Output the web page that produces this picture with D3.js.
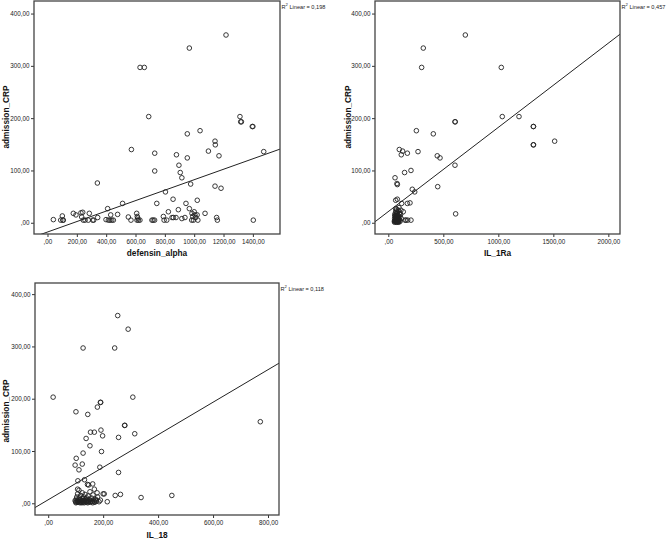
<!DOCTYPE html>
<html><head><meta charset="utf-8">
<script src="https://cdn.jsdelivr.net/npm/d3@7"></script>
<style>html,body{margin:0;padding:0;background:#fff}svg{display:block}text{font-family:Arial,"Liberation Sans",sans-serif}</style>
</head><body><svg id="chart" width="667" height="540"></svg>
<script>
// ---- data ----
const yTickValues = [0, 100, 200, 300, 400];
const xTicksDefensin = [0, 200, 400, 600, 800, 1000, 1200, 1400];
const xTicksIL1Ra = [0, 500, 1000, 1500, 2000];
const xTicksIL18 = [0, 200, 400, 600, 800];
const xTitles = ["defensin_alpha", "IL_1Ra", "IL_18"];
const yTitle = "admission_CRP";
const r2Values = ["0,198", "0,457", "0,118"];
const fitIntercept = [-17.7, 21.4, 6.7];
const fitSlope = [0.1, 0.161, 0.311];

const defensinAlpha = [40,90,101,108,104,176,194,228,240,233,244,256,285,278,308,315,342,340,399,415,426,438,449,410,431,478,512,551,569,572,608,612,615,610,630,620,631,660,690,712,720,730,731,731,745,790,795,813,804,824,849,858,876,856,879,892,896,905,916,916,937,944,953,953,967,967,976,985,990,983,995,1000,1005,1010,1020,1025,1021,1040,1074,1097,1142,1144,1142,1153,1158,1169,1183,1217,1312,1317,1322,1396,1400,1403,1474];
const crpDefensin = [6,5,13,5,5,18,15,19,20,11,5,5,18,5,5,5,10,76,6,5,5,5,5,27,15,16,37,11,5,140,18,12,9,5,5,5,297,297,203,5,5,5,133,99,37,12,5,5,59,21,10,10,10,45,130,25,110,96,86,8,10,37,170,124,334,27,74,18,12,5,5,21,15,10,15,5,43,176,18,137,156,149,70,10,5,128,66,359,203,193,193,184,184,5,136];

const il1Ra = [700,318,303,1027,1036,1188,606,608,1318,1320,1318,1320,1512,255,409,100,130,118,173,270,445,470,606,61,79,82,148,206,218,240,449,612,67,82,121,173,197,152,176,206,161,67,97,115,136,106,55,58,60,62,63,65,66,68,70,71,72,74,75,76,78,79,80,82,83,85,86,88,90,92,94,95,98,100,104,108,112,118,57,61,64,67,69,73,77,81,84,87,89,91,93,96,59,71,79,87,65,75];
const crpIL1Ra = [359,334,297,297,203,203,193,193,184,184,149,149,156,176,170,140,137,130,133,136,128,124,110,86,75,73,96,100,64,59,69,17,43,45,37,37,38,5,5,5,5,27,29,24,21,18,3,8,12,5,18,2,10,22,6,14,3,26,9,17,4,12,20,7,2,15,10,5,24,13,3,8,18,6,11,3,16,8,1,4,7,2,9,5,1,6,3,8,2,11,4,1,15,12,2,6,14,10];

const il18 = [253,291,127,242,18,308,190,191,179,101,144,278,279,772,192,154,168,198,256,315,138,152,127,194,102,98,124,112,188,256,108,132,143,147,162,200,204,244,263,338,450,215,107,98,100,102,104,105,107,108,110,112,113,115,117,118,120,122,124,125,127,129,130,132,134,136,138,140,142,145,147,150,152,155,158,160,163,165,168,172,176,180,185,190,178,168,101,106,109,114,116,119,123,126,128,131,135,139,141,144,148,153,157,162,170,174];
const crpIL18 = [359,333,297,297,203,203,193,193,184,175,170,149,149,156,140,136,136,129,126,133,124,110,96,99,86,73,75,64,69,59,43,45,36,35,37,18,18,15,17,11,15,3,27,5,3,8,12,2,18,6,4,25,10,3,7,15,2,5,20,9,3,12,6,4,17,8,3,10,5,14,3,7,22,4,10,3,16,6,3,8,4,12,3,6,20,27,1,4,2,6,1,3,1,5,2,1,4,2,6,1,3,2,5,1,2,6];

// ---- layout ----
const panels = [
  {xs: defensinAlpha, ys: crpDefensin, xTicks: xTicksDefensin, box: [34, 280, 1, 234], xDom: [-92, 1585], yDom: [-21.5, 424], yTitleX: 6, yTitleY: 117, xTitleY: 253},
  {xs: il1Ra, ys: crpIL1Ra, xTicks: xTicksIL1Ra, box: [375, 620, 1, 234], xDom: [-121, 2106], yDom: [-21.5, 424], yTitleX: 348, yTitleY: 117, xTitleY: 253},
  {xs: il18, ys: crpIL18, xTicks: xTicksIL18, box: [35, 279, 283, 515], xDom: [-48, 840], yDom: [-22.4, 421.3], yTitleX: 6, yTitleY: 411, xTitleY: 535}
];

const fmt = v => v === 0 ? ",00" : v.toFixed(2).replace(".", ",");
const svg = d3.select("#chart");
svg.append("rect").attr("width", 667).attr("height", 540).attr("fill", "#fff");

panels.forEach((p, i) => {
  const [x0, x1, y0, y1] = p.box;
  const x = d3.scaleLinear().domain(p.xDom).range([x0, x1]);
  const y = d3.scaleLinear().domain(p.yDom).range([y1, y0]);
  const g = svg.append("g");

  const clipId = "clip" + i;
  svg.append("clipPath").attr("id", clipId).append("rect")
    .attr("x", x0).attr("y", y0).attr("width", x1 - x0).attr("height", y1 - y0);

  // axes
  const ya = g.append("g").attr("transform", `translate(${x0},0)`)
    .call(d3.axisLeft(y).tickValues(yTickValues).tickSize(3).tickPadding(1.5).tickFormat(fmt));
  const xa = g.append("g").attr("transform", `translate(0,${y1})`)
    .call(d3.axisBottom(x).tickValues(p.xTicks).tickSize(3).tickPadding(2.5).tickFormat(fmt));
  [ya, xa].forEach(a => {
    a.select(".domain").remove();
    a.selectAll("line").attr("stroke", "#333");
    a.selectAll("text").attr("font-size", "6.3px").attr("fill", "#222")
      .attr("font-family", "Arial, 'Liberation Sans', sans-serif");
  });

  // regression line
  g.append("line").attr("clip-path", `url(#${clipId})`)
    .attr("x1", x(p.xDom[0])).attr("y1", y(fitIntercept[i] + fitSlope[i] * p.xDom[0]))
    .attr("x2", x(p.xDom[1])).attr("y2", y(fitIntercept[i] + fitSlope[i] * p.xDom[1]))
    .attr("stroke", "#222").attr("stroke-width", 1);

  // points
  g.append("g").selectAll("circle").data(p.xs.map((v, k) => [v, p.ys[k]])).join("circle")
    .attr("cx", d => x(d[0])).attr("cy", d => y(d[1])).attr("r", 2.3)
    .attr("fill", "none").attr("stroke", "#222").attr("stroke-width", 0.9);

  // frame
  g.append("rect").attr("x", x0).attr("y", y0).attr("width", x1 - x0).attr("height", y1 - y0)
    .attr("fill", "none").attr("stroke", "#444").attr("stroke-width", 1.3);

  // titles
  g.append("text").attr("x", (x0 + x1) / 2).attr("y", p.xTitleY).attr("dy", "0.35em")
    .attr("text-anchor", "middle").attr("font-size", "8.3px").attr("font-weight", "bold")
    .attr("fill", "#111").text(xTitles[i]);
  g.append("text").attr("transform", `translate(${p.yTitleX},${p.yTitleY}) rotate(-90)`)
    .attr("dy", "0.35em").attr("text-anchor", "middle").attr("font-size", "8.3px")
    .attr("font-weight", "bold").attr("fill", "#111").text(yTitle);

  // R2 label
  const t = g.append("text").attr("x", x1 + 1.5).attr("y", y0 + 7.5).attr("font-size", "5.6px").attr("fill", "#222");
  t.append("tspan").text("R");
  t.append("tspan").attr("dy", "-2.3").attr("font-size", "4.2px").text("2");
  t.append("tspan").attr("dy", "2.3").text(" Linear = " + r2Values[i]);
});
</script>
</body></html>
